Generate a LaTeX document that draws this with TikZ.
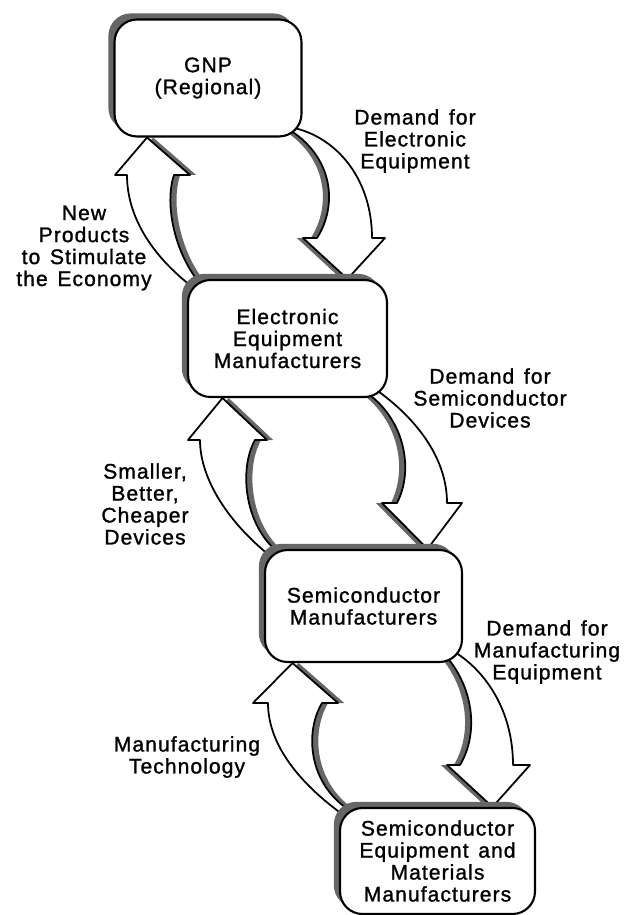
\documentclass[tikz,border=0pt]{standalone}
\usepackage{fontspec}
\setmainfont{Liberation Sans}[LetterSpace=5, WordSpace=1.4, FakeBold=1.2]
\usetikzlibrary{shadows,backgrounds}
\definecolor{shade}{gray}{0.4}

\begin{document}
\begin{tikzpicture}[x=0.02cm,y=-0.02cm,
    font=\fontsize{12}{12.5}\selectfont,
    box/.style={draw, line width=1.2pt, fill=white, rounded corners=0.45cm, align=center,
      general shadow={fill=shade, shadow xshift=-3.5pt, shadow yshift=3.5pt}},
    lbl/.style={align=center},
    downarr/.style={draw, line width=1pt, fill=white, line join=round,
      preaction={fill=shade, transform canvas={xshift=-3.5pt}}},
    uparr/.style={draw, line width=1pt, fill=white, line join=round,
      preaction={fill=shade, transform canvas={xshift=3.5pt}}}]
    \useasboundingbox (0,0) rectangle (625,915);

    % Boxes
    \node[box, minimum width=3.74cm, minimum height=2.34cm] (gnp) at (208,78) {GNP\\(Regional)};
    \node[box, minimum width=3.98cm, minimum height=2.34cm] (eem) at (287.5,338.5) {Electronic\\Equipment\\Manufacturers};
    \node[box, minimum width=3.94cm, minimum height=2.24cm] (smf) at (363.5,606) {Semiconductor\\Manufacturers};
    \node[box, minimum width=3.9cm, minimum height=2.12cm] (sem) at (437.5,861) {Semiconductor\\Equipment and\\Materials\\Manufacturers};

    % Labels
    \node[lbl] (dee) at (415,141) {Demand for\\Electronic\\Equipment};
    \node[lbl] (nps) at (84,248) {New\\Products\\to Stimulate\\the Economy};
    \node[lbl] (dsd) at (490,398) {Demand for\\Semiconductor\\Devices};
    \node[lbl] (sbc) at (145,504) {Smaller,\\Better,\\Cheaper\\Devices};
    \node[lbl] (dme) at (547,652) {Demand for\\Manufacturing\\Equipment};
    \node[lbl] (mtc) at (187,757) {Manufacturing\\Technology};

    % Arrows, under the boxes
    \begin{scope}[on background layer]
    % gnp -> eem
    \draw[downarr] ([shift={(-6,-9)}]gnp.south east)
        .. controls (340,140) and (372,182) .. (372,238) -- (385,238)
        -- ([shift={(60,0)}]eem.north) -- (303,238) -- (317,238)
        .. controls (338,205) and (333,158) .. ([shift={(-12,-7)}]gnp.south east) -- cycle;
    % eem -> gnp
    \draw[uparr] ([shift={(8,10)}]eem.north west)
        .. controls (150,255) and (127,215) .. (127,175) -- (115,175)
        -- ([shift={(-61,0)}]gnp.south) -- (190,175) -- (174,175)
        .. controls (164,205) and (175,255) .. ([shift={(15,7)}]eem.north west) -- cycle;

    % eem -> smf
    \draw[downarr] ([shift={(-13,-9)}]eem.south east)
        .. controls (405,410) and (447,450) .. (447,503) -- (462,503)
        -- ([shift={(64,0)}]smf.north) -- (382,503) -- (397,503)
        .. controls (414,470) and (405,420) .. ([shift={(-21,-5)}]eem.south east) -- cycle;
    % smf -> eem
    \draw[uparr] ([shift={(10,10)}]smf.north west)
        .. controls (230,525) and (200,480) .. (200,440) -- (188,440)
        -- ([shift={(-65,0)}]eem.south) -- (267,440) -- (255,440)
        .. controls (238,470) and (245,530) .. ([shift={(18,6)}]smf.north west) -- cycle;

    % smf -> sem
    \draw[downarr] ([shift={(-10,-12)}]smf.south east)
        .. controls (485,670) and (513,710) .. (513,765) -- (530,765)
        -- ([shift={(55,0)}]sem.north) -- (447,765) -- (460,765)
        .. controls (478,735) and (475,690) .. ([shift={(-17,-7)}]smf.south east) -- cycle;
    % sem -> smf
    \draw[uparr] ([shift={(10,12)}]sem.north west)
        .. controls (300,785) and (268,745) .. (268,703) -- (253,703)
        -- ([shift={(-71,0)}]smf.south) -- (338,703) -- (322,703)
        .. controls (303,735) and (310,790) .. ([shift={(17,7)}]sem.north west) -- cycle;
    \end{scope}

\end{tikzpicture}
\end{document}
